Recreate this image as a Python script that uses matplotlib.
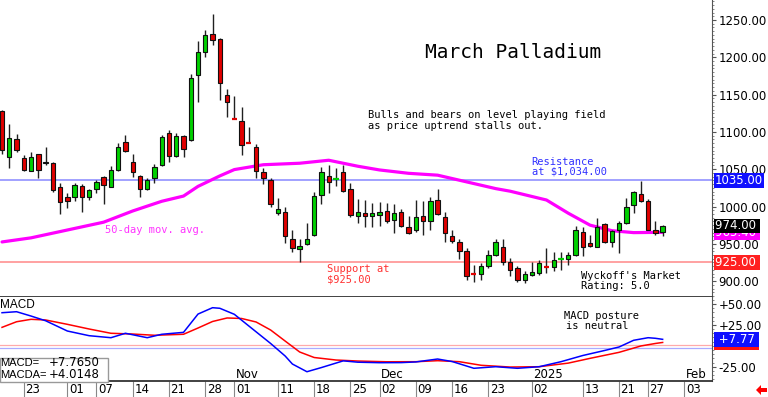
import numpy as np
import pandas as pd
import matplotlib
matplotlib.use('Agg')
import matplotlib.pyplot as plt
import matplotlib.transforms as mtransforms
from matplotlib.patches import Rectangle, Polygon

W, H = 768, 397

# ---------------- data ----------------
holidays = ['2024-11-28', '2024-12-25', '2025-01-01', '2025-01-20']
days = [d for d in pd.bdate_range('2024-09-18', '2025-02-10')
        if d.strftime('%Y-%m-%d') not in holidays]
pos = {d.strftime('%Y-%m-%d'): i for i, d in enumerate(days)}

opens = [1128, 1067, 1091, 1065, 1048, 1070, 1060, 1058, 1026, 1013,
         1013, 1028, 1013, 1023, 1039, 1026, 1049, 1086, 1059, 1041,
         1023, 1038, 1056, 1098, 1068, 1094, 1089, 1176, 1207, 1231,
         1225, 1150, 1118.5, 1114, 1086.5, 1080, 1046, 1036, 991, 992,
         957, 943, 950, 962, 1015, 1041, 1035, 1046, 1024, 987,
         991, 987, 989, 994, 982, 992, 973, 969, 987, 980,
         1009, 986, 961, 952, 941, 910, 910, 920, 935, 946,
         926, 917, 901, 908, 911, 920, 919, 928.5, 929, 935,
         966, 951, 946, 977, 952, 968, 978, 1002, 1017, 1007,
         969, 966]
highs = [1130, 1110, 1097, 1069, 1073, 1071, 1080, 1059, 1031, 1018,
         1031, 1030, 1024, 1036, 1041, 1054, 1085, 1096, 1071, 1042,
         1038, 1057, 1096, 1102, 1098, 1096, 1178, 1222, 1236, 1258,
         1226, 1158, 1148, 1134, 1106, 1084, 1051, 1038, 1011, 999,
         969, 957, 978, 1020, 1053, 1055, 1051, 1055, 1032, 1010,
         1009, 1005, 1006, 1005, 1003, 996, 987, 1009, 1008, 1013,
         1024, 992, 968, 956, 944, 922, 924, 942, 957, 956,
         931, 920, 913, 926, 928, 945, 939, 939, 939, 974,
         973, 962, 984, 978, 969, 980, 1011, 1021, 1034, 1010,
         981, 975]
lows = [1070, 1052, 1073, 1047, 1047, 1038, 1056, 1020, 990, 998,
        1008, 993, 1009, 1018, 1004, 1026, 1048, 1073, 1039, 1013,
        1022, 1031, 1054, 1060, 1067, 1066, 1088, 1140, 1201, 1217,
        1143, 1120, 1117, 1069, 1085, 1038, 1030, 999, 989, 951,
        939, 926, 948, 961, 1003, 1018, 1028, 1019, 986, 978,
        972, 972, 974, 978, 964, 972, 963, 966, 962, 969,
        989, 952, 951, 929, 902, 899, 902, 917, 933, 922,
        907, 899, 897, 907, 908, 911, 913, 915, 922, 934,
        933, 946, 946, 951, 946, 938, 977, 991, 1006, 968,
        962, 960]
closes = [1076, 1092, 1076, 1049, 1066, 1049, 1058, 1022, 1006, 1008,
          1029, 1013, 1022, 1033, 1029, 1049, 1080, 1075, 1046, 1023,
          1035, 1053, 1093, 1068, 1094, 1077, 1172, 1207, 1230, 1223,
          1165, 1140, 1117.5, 1082, 1085.5, 1047, 1038, 1003, 997, 960,
          944, 947, 957, 1014, 1046, 1033, 1036.5, 1021, 989, 992,
          987, 991, 992, 981, 991, 974, 965, 986, 981, 1008,
          990, 964, 954, 941, 907, 909, 920, 935, 952, 926,
          915, 902, 910, 912, 924, 919, 928, 929.5, 935, 968,
          946, 947, 972, 952, 967, 978, 1000, 1019, 1008, 969,
          965, 974]

ma_dates = ['2024-09-18', '2024-09-24', '2024-10-01', '2024-10-08', '2024-10-14',
            '2024-10-18', '2024-10-23', '2024-10-25', '2024-10-30', '2024-11-01',
            '2024-11-07', '2024-11-14', '2024-11-20', '2024-11-26', '2024-12-02',
            '2024-12-06', '2024-12-12', '2024-12-18', '2024-12-24', '2024-12-27',
            '2025-01-06', '2025-01-09', '2025-01-14', '2025-01-17', '2025-01-23',
            '2025-01-29']
ma_values = [952.5, 958, 968.5, 979, 994, 1007, 1014, 1027, 1041, 1049.5,
             1056, 1058, 1062, 1054, 1049, 1044.5, 1042, 1033, 1024, 1020.5,
             1008.7, 991, 975, 967.6, 965, 965.4]

macd_dates = ['2024-09-18', '2024-09-20', '2024-09-24', '2024-09-26', '2024-10-01',
              '2024-10-04', '2024-10-09', '2024-10-11', '2024-10-16', '2024-10-18',
              '2024-10-23', '2024-10-25', '2024-10-29', '2024-10-30', '2024-11-01',
              '2024-11-05', '2024-11-08', '2024-11-12', '2024-11-13', '2024-11-15',
              '2024-11-19', '2024-11-22', '2024-11-26', '2024-12-02', '2024-12-05',
              '2024-12-09', '2024-12-12', '2024-12-16', '2024-12-19', '2024-12-24',
              '2024-12-30', '2025-01-03', '2025-01-08', '2025-01-13', '2025-01-16',
              '2025-01-21', '2025-01-23', '2025-01-27', '2025-01-28', '2025-01-29']
macd_values = [39.6, 40.8, 35.6, 30, 17.7, 12.1, 9.7, 15, 9.7, 13.8,
               16.1, 38, 45.6, 44.9, 37.7, 23.7, 2.8, -12.2, -21.8, -31,
               -26, -18, -19.6, -20.2, -20.1, -19.3, -15.8, -18.8, -26.9, -25,
               -26.9, -25, -19, -11.6, -5.6, -1.4, 6.6, 9.7, 9, 7.765]

sig_dates = ['2024-09-18', '2024-09-20', '2024-09-24', '2024-09-26', '2024-10-01',
             '2024-10-04', '2024-10-09', '2024-10-14', '2024-10-17', '2024-10-23',
             '2024-10-25', '2024-10-29', '2024-10-31', '2024-11-04', '2024-11-06',
             '2024-11-08', '2024-11-12', '2024-11-14', '2024-11-18', '2024-11-21',
             '2024-11-26', '2024-12-03', '2024-12-09', '2024-12-12', '2024-12-17',
             '2024-12-20', '2024-12-27', '2025-01-03', '2025-01-09', '2025-01-14',
             '2025-01-21', '2025-01-24', '2025-01-28', '2025-01-29']
sig_values = [22.1, 28.8, 31.7, 30.9, 25.7, 20.1, 15, 14.1, 12.6, 13.8,
              21.3, 29.1, 33.3, 32.7, 28.5, 18.9, 5.7, -7.4, -14, -17,
              -18.2, -19.1, -19, -17.8, -19, -23.3, -25.4, -25, -20.7, -15,
              -7.8, -0.2, 2.8, 4.0148]

tick_dates = ['2024-09-23', '2024-10-01', '2024-10-07', '2024-10-14', '2024-10-21',
              '2024-10-28', '2024-11-01', '2024-11-11', '2024-11-18', '2024-11-25',
              '2024-12-02', '2024-12-09', '2024-12-16', '2024-12-23', '2025-01-02',
              '2025-01-13', '2025-01-21', '2025-01-27', '2025-02-03']
month_labels = {'2024-11-01': 'Nov', '2024-12-02': 'Dec',
                '2025-01-02': '2025', '2025-02-03': 'Feb'}

resistance_line = 1035.0
support_line = 925.0

# ---------------- figure ----------------
fig = plt.figure(figsize=(W / 100, H / 100), dpi=100)
fig.patch.set_facecolor('white')

ax = fig.add_axes([0, 1 - 297 / H, 712 / W, 297 / H])
axm = fig.add_axes([0, 1 - 381 / H, 712 / W, 84 / H], sharex=ax)

o = np.array(opens, float); h = np.array(highs, float)
l = np.array(lows, float); c = np.array(closes, float)
x = np.arange(len(c))
up = c >= o
green, red = '#00d000', '#e00000'

ax.axhline(resistance_line, color='#8888ff', lw=1.1, zorder=1)
ax.axhline(support_line, color='#ff8888', lw=1.1, zorder=1)

ax.plot([pos[d] for d in ma_dates], ma_values, color='#ff00ff', lw=2.3,
        solid_capstyle='round', solid_joinstyle='round', zorder=2)

ax.vlines(x, l, h, color='#202020', lw=1.0, zorder=3)
doji = np.abs(c - o) < 1.8
body = ~doji
cols = np.where(up, green, red)
ax.bar(x[body], np.abs(c - o)[body], bottom=np.minimum(o, c)[body], width=0.6,
       color=cols[body], edgecolor='#101010', lw=0.8, zorder=4)
ax.hlines(c[doji], x[doji] - 0.35, x[doji] + 0.35, colors=cols[doji], lw=1.6, zorder=4)

ax.set_xlim(-0.28, 97.8)
ax.set_ylim(878.7, 1276.8)

for s in ['top', 'left']:
    ax.spines[s].set_visible(False)
ax.spines['right'].set_color('#555555')
ax.spines['right'].set_linewidth(0.8)
ax.spines['bottom'].set_color('#333333')
ax.spines['bottom'].set_linewidth(1.3)
ax.yaxis.tick_right()
ax.set_yticks(np.arange(900, 1251, 50))
ax.yaxis.set_major_formatter(matplotlib.ticker.FormatStrFormatter('%.2f'))
ax.yaxis.set_minor_locator(matplotlib.ticker.MultipleLocator(5))
ax.tick_params(axis='y', which='major', labelsize=8.5, length=3, pad=1.5, color='#555555')
ax.tick_params(axis='y', which='minor', length=1.5, color='#777777')
ax.tick_params(axis='x', which='both', bottom=False, labelbottom=False)

# MACD panel
axm.axhline(0.5, color='#ffaaaa', lw=0.9, zorder=1)
axm.axhline(-3.0, color='#aaaaff', lw=0.9, zorder=1)
axm.plot([pos[d] for d in sig_dates], sig_values, color='#ff0000', lw=1.1, zorder=2)
axm.plot([pos[d] for d in macd_dates], macd_values, color='#0000ff', lw=1.1, zorder=3)
axm.set_ylim(-42.1, 58.4)
for s in ['top', 'left']:
    axm.spines[s].set_visible(False)
axm.spines['right'].set_color('#555555')
axm.spines['right'].set_linewidth(0.8)
axm.spines['bottom'].set_color('#333333')
axm.spines['bottom'].set_linewidth(1.3)
axm.yaxis.tick_right()
axm.set_yticks([-25, 25, 50])
axm.yaxis.set_major_formatter(matplotlib.ticker.FormatStrFormatter('%+.2f'))
axm.yaxis.set_minor_locator(matplotlib.ticker.MultipleLocator(5))
axm.tick_params(axis='y', which='major', labelsize=8.5, length=3, pad=1.5, color='#555555')
axm.tick_params(axis='y', which='minor', length=1.5, color='#777777')
tpos = [pos[d] for d in tick_dates]
axm.set_xticks(tpos)
axm.tick_params(axis='x', which='major', direction='out', length=11.5, width=0.8,
                color='#888888', labelbottom=False)
axm.tick_params(axis='x', which='minor', bottom=False)

# date labels
trans_lab = mtransforms.offset_copy(axm.get_xaxis_transform(), fig=fig, x=1.5, y=0, units='dots')
for d, p in zip(tick_dates, tpos):
    axm.text(p, -8.5 / 84, d[-2:], transform=trans_lab, ha='left', va='center',
             fontsize=8.5, clip_on=False)
for d, lab in month_labels.items():
    axm.text(pos[d], 0, lab, transform=trans_lab, ha='left', va='bottom',
             fontsize=8.5, clip_on=False)

# value boxes
def vbox(a, val, txt, fc, tc='white'):
    tr = mtransforms.blended_transform_factory(a.transAxes, a.transData)
    a.text(1.004, val, txt, transform=tr, ha='left', va='center', fontsize=8.5,
           color=tc, clip_on=False, zorder=20,
           bbox=dict(boxstyle='square,pad=0.06', fc=fc, ec='none'))

vbox(ax, 1035.0, '1035.00', '#1010ff')
vbox(ax, 925.0, '925.00 ', '#ff2020')
vbox(ax, 965.4, '965.40 ', '#ff00ff')
vbox(ax, 974.0, '974.00 ', '#000000')
vbox(axm, 4.0148, ' +4.01 ', '#ff1010')
vbox(axm, 7.77, ' +7.77 ', '#1010ff')

# annotations
mono = 'DejaVu Sans Mono'
def ft(px, py, s, color='black', size=7.5, family=mono, **kw):
    fig.text(px / W, 1 - py / H, s, color=color, fontsize=size, family=family,
             ha='left', va='center', **kw)

ft(425, 52.7, 'March Palladium', size=14)
ft(367.5, 115, 'Bulls and bears on level playing field')
ft(367.5, 125.7, 'as price uptrend stalls out.')
ft(531.5, 161.7, 'Resistance', color='#3030ff')
ft(531.5, 171.7, 'at $1,034.00', color='#3030ff')
ft(105, 230, '50-day mov. avg.', color='#ff33ff')
ft(327, 269.3, 'Support at', color='#ff3030')
ft(327, 279.3, '$925.00', color='#ff3030')
ft(581, 276, "Wyckoff's Market")
ft(581, 286, 'Rating: 5.0')
ft(564, 315.7, 'MACD posture')
ft(565.5, 325.7, 'is neutral')
ft(0, 305.5, 'MACD', family='Liberation Sans', size=8.5)

fig.add_artist(Rectangle((0, 1 - 381.5 / H), 108 / W, 23.8 / H, transform=fig.transFigure,
                         fc='white', ec='#999999', lw=1.0, zorder=5))
ft(0.5, 363, 'MACD=', family='Liberation Sans', size=8, zorder=6)
ft(49, 363, '+7.7650', family='DejaVu Sans', size=8.5, zorder=6)
ft(0.5, 375, 'MACDA=', family='Liberation Sans', size=8, zorder=6)
ft(49, 375, '+4.0148', family='DejaVu Sans', size=8.5, zorder=6)

arrow_px = [(756, 390), (761, 385), (761, 388), (767, 388), (767, 392), (761, 392), (761, 395)]
fig.add_artist(Polygon([(px / W, 1 - py / H) for px, py in arrow_px], closed=True,
                       transform=fig.transFigure, fc='#ff0000', ec='none'))

fig.savefig('out.png', dpi=100, facecolor='white')
